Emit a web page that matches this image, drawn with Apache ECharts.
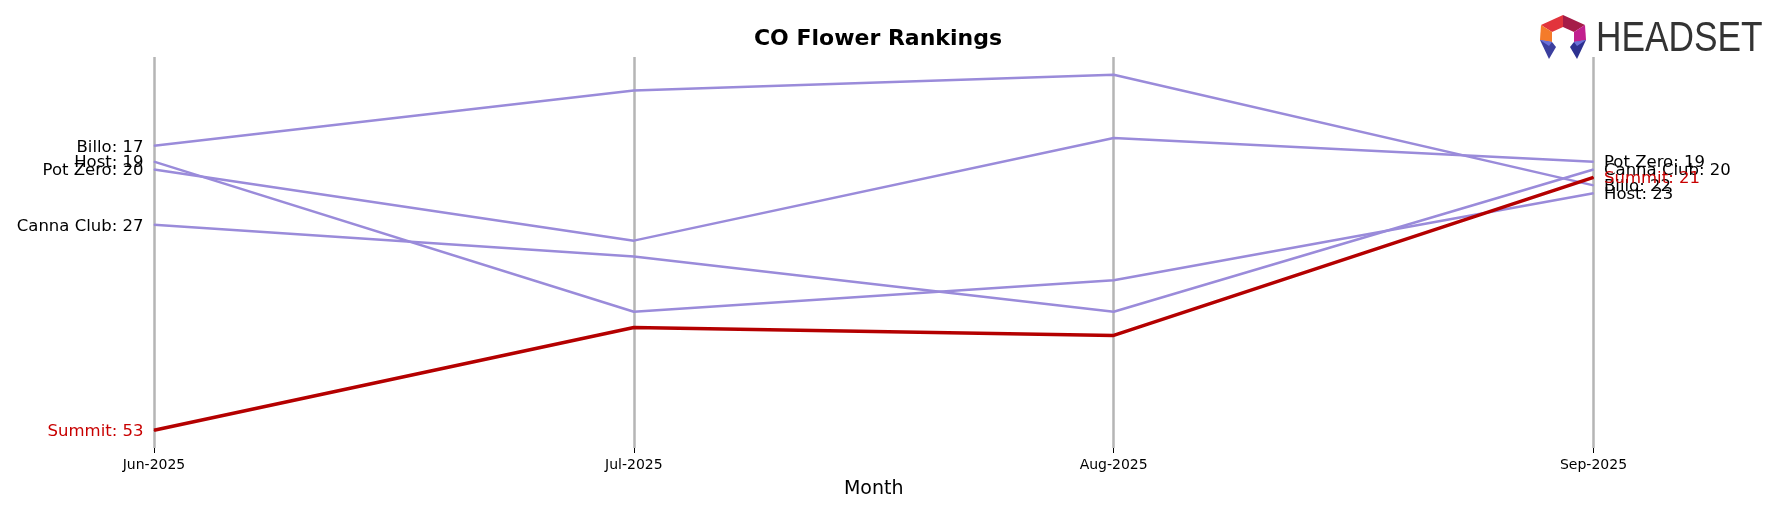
<!DOCTYPE html>
<html>
<head>
<meta charset="utf-8">
<script src="https://cdn.jsdelivr.net/npm/echarts@6/dist/echarts.min.js"></script>
<style>html,body{margin:0;padding:0;background:#fff;}#c{width:1777px;height:507px;}</style>
</head>
<body>
<div id="c"></div>
<script>
const months = ['Jun-2025', 'Jul-2025', 'Aug-2025', 'Sep-2025'];
const billo = [17, 10, 8, 22];
const host = [19, 38, 34, 23];
const potZero = [20, 29, 16, 19];
const cannaClub = [27, 31, 38, 20];
const summit = [53, 40, 41, 21];

const brands = [
  {name: 'Billo', values: billo, highlight: false},
  {name: 'Host', values: host, highlight: false},
  {name: 'Pot Zero', values: potZero, highlight: false},
  {name: 'Canna Club', values: cannaClub, highlight: false},
  {name: 'Summit', values: summit, highlight: true}
];

const PURPLE = '#9a8bda';
const RED_LINE = '#b40000';
const RED_TEXT = '#c80000';

function makeSeries(b) {
  const last = b.values.length - 1;
  const data = b.values.map((v, i) => {
    if (i === 0 || i === last) {
      return {
        value: v,
        label: {
          show: true,
          position: i === 0 ? 'left' : 'right',
          distance: 10,
          offset: [0, 1.5],
          formatter: b.name + ': ' + v,
          color: b.highlight ? RED_TEXT : '#000',
          fontSize: 16.5,
          fontFamily: 'DejaVu Sans'
        }
      };
    }
    return v;
  });
  return {
    type: 'line',
    name: b.name,
    data: data,
    symbol: 'circle',
    symbolSize: 1,
    showSymbol: true,
    z: b.highlight ? 5 : 3,
    itemStyle: {color: b.highlight ? RED_LINE : PURPLE},
    lineStyle: {color: b.highlight ? RED_LINE : PURPLE, width: b.highlight ? 3.5 : 2.5},
    emphasis: {disabled: true},
    animation: false
  };
}

const chart = echarts.init(document.getElementById('c'));
chart.setOption({
  backgroundColor: '#fff',
  animation: false,
  textStyle: {fontFamily: 'DejaVu Sans'},
  title: {
    text: 'CO Flower Rankings',
    left: 873,
    top: 23,
    textAlign: 'center',
    textStyle: {fontSize: 22, fontWeight: 'bold', color: '#000', fontFamily: 'DejaVu Sans'}
  },
  grid: {left: 154, right: 183.5, top: 57, bottom: 59},
  xAxis: {
    type: 'category',
    data: months,
    boundaryGap: false,
    axisLine: {show: false, onZero: false},
    axisTick: {show: true, length: 5, lineStyle: {color: '#000', width: 1}},
    axisLabel: {fontSize: 14, color: '#000', margin: 10, fontFamily: 'DejaVu Sans'},
    splitLine: {show: true, lineStyle: {color: '#b5b5b5', width: 2.5}},
    name: 'Month',
    nameLocation: 'middle',
    nameGap: 32,
    nameTextStyle: {fontSize: 19, color: '#000', fontFamily: 'DejaVu Sans'}
  },
  yAxis: {
    type: 'value',
    inverse: true,
    min: 5.75,
    max: 55.25,
    show: false,
    splitLine: {show: false}
  },
  series: brands.map(makeSeries),
  graphic: [
    {type: 'polygon', shape: {points: [[1541,25],[1563,15],[1563,27],[1552,32]]}, style: {fill: '#e2343c'}},
    {type: 'polygon', shape: {points: [[1563,15],[1585,25],[1574,32],[1563,27]]}, style: {fill: '#a51c48'}},
    {type: 'polygon', shape: {points: [[1541,25],[1552,32],[1552,42],[1540,40]]}, style: {fill: '#f47b2a'}},
    {type: 'polygon', shape: {points: [[1585,25],[1586,40],[1574,42],[1574,32]]}, style: {fill: '#c21f8e'}},
    {type: 'polygon', shape: {points: [[1540,40],[1552,42],[1556,47],[1549,59]]}, style: {fill: '#3b3f9e'}},
    {type: 'polygon', shape: {points: [[1540,40],[1552,42],[1549,46]]}, style: {fill: '#6a6fd8'}},
    {type: 'polygon', shape: {points: [[1586,40],[1574,42],[1570,47],[1577,59]]}, style: {fill: '#2d3190'}},
    {type: 'polygon', shape: {points: [[1586,40],[1574,42],[1577,46]]}, style: {fill: '#6a6fd8'}},
    {type: 'text', x: 1596, y: 39, scaleX: 0.82,
      style: {text: 'HEADSET', fontSize: 43, fontFamily: 'Liberation Sans', fill: '#333333', textVerticalAlign: 'middle', textAlign: 'left'}}
  ]
});
</script>
</body>
</html>
